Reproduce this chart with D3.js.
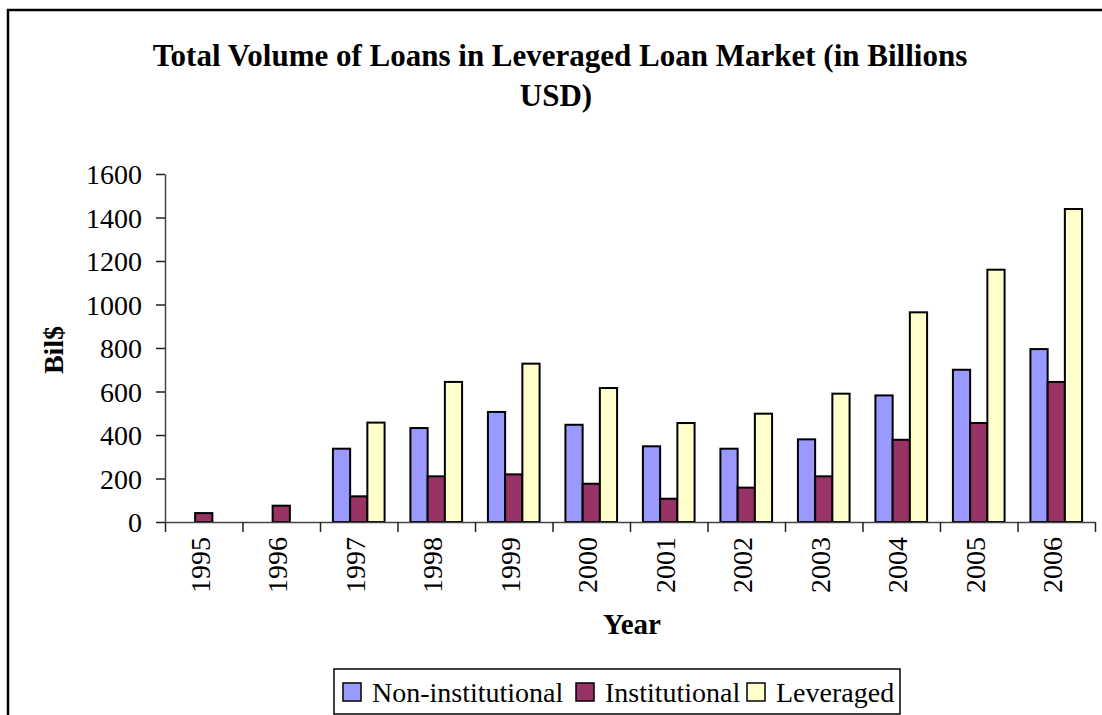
<!DOCTYPE html>
<html>
<head>
<meta charset="utf-8">
<script src="https://cdn.jsdelivr.net/npm/d3@7"></script>
<style>
  html, body { margin: 0; padding: 0; background: #fff; }
  svg { display: block; }
</style>
</head>
<body>
<svg id="chart" width="1102" height="715"></svg>
<script>
// Leveraged loan market volume, billions USD
const years = ["1995","1996","1997","1998","1999","2000","2001","2002","2003","2004","2005","2006"];
const nonInstitutional = [0, 0, 337, 432, 506, 447, 348, 337, 380, 582, 700, 795];
const institutional    = [41, 75, 118, 210, 219, 176, 107, 158, 210, 378, 455, 644];
const leveraged        = [0, 0, 457, 644, 728, 616, 455, 498, 590, 964, 1160, 1439];
const seriesNames  = ["Non-institutional", "Institutional", "Leveraged"];
const seriesColors = ["#9999FF", "#993366", "#FFFFCC"];
const yTicks = [0, 200, 400, 600, 800, 1000, 1200, 1400, 1600];

const seriesValues = [nonInstitutional, institutional, leveraged];
const svg = d3.select("#chart");
const serif = '"Liberation Serif", serif';

// outer chart frame
svg.append("rect")
  .attr("x", 8).attr("y", 10)
  .attr("width", 1110).attr("height", 720)
  .attr("fill", "none").attr("stroke", "#000").attr("stroke-width", 2.5);

// title
const title = svg.append("text")
  .style("font-family", serif)
  .style("font-weight", "bold")
  .style("font-size", "31px")
  .attr("text-anchor", "middle");
title.append("tspan").attr("x", 560).attr("y", 66).text("Total Volume of Loans in Leveraged Loan Market (in Billions");
title.append("tspan").attr("x", 556).attr("y", 106).text("USD)");

const plot = { left: 165, right: 1095, top: 174, bottom: 522 };

const x0 = d3.scaleBand().domain(years).range([plot.left, plot.right]).padding(0);
const bw = x0.bandwidth();
const gap = bw * 0.75 / 4.5;
const x1 = d3.scaleBand().domain(seriesNames).range([gap, bw - gap]).padding(0);
const y = d3.scaleLinear().domain([0, 1600]).range([plot.bottom, plot.top]);

// bars
years.forEach((yr, i) => {
  const g = svg.append("g").attr("transform", `translate(${x0(yr)},0)`);
  seriesNames.forEach((s, k) => {
    const v = seriesValues[k][i];
    if (!v) return;
    g.append("rect")
      .attr("x", x1(s))
      .attr("y", y(v))
      .attr("width", x1.bandwidth())
      .attr("height", y(0) - y(v))
      .attr("fill", seriesColors[k])
      .attr("stroke", "#000")
      .attr("stroke-width", 2);
  });
});

// y axis
const yAxis = svg.append("g")
  .attr("transform", `translate(${plot.left},0)`)
  .call(d3.axisLeft(y).tickValues(yTicks).tickFormat(d3.format("d"))
    .tickSize(9).tickPadding(14).tickSizeOuter(0));
yAxis.select(".domain").attr("stroke", "#444").attr("stroke-width", 1.5);
yAxis.selectAll(".tick line").attr("stroke", "#222").attr("stroke-width", 1.5);
yAxis.selectAll(".tick text")
  .style("font-family", serif)
  .style("font-size", "28px")
  .attr("fill", "#000").attr("dy", "0.35em");

// x axis: ticks at category boundaries
const xEdge = d3.scaleLinear().domain([0, years.length]).range([plot.left, plot.right]);
const xAxis = svg.append("g")
  .attr("transform", `translate(0,${plot.bottom})`)
  .call(d3.axisBottom(xEdge).tickValues(d3.range(years.length + 1))
    .tickSize(10).tickSizeOuter(0).tickFormat(""));
xAxis.select(".domain").attr("stroke", "#444").attr("stroke-width", 1.5);
xAxis.selectAll(".tick line").attr("stroke", "#222").attr("stroke-width", 1.5);

// rotated year labels
svg.append("g").selectAll("text")
  .data(years)
  .join("text")
  .attr("transform", d => `translate(${x0(d) + bw / 2 + 6},537) rotate(-90)`)
  .attr("text-anchor", "end")
  .style("font-family", serif)
  .style("font-size", "28px")
  .text(d => d);

// axis titles
svg.append("text")
  .attr("transform", "translate(63,350) rotate(-90)")
  .attr("text-anchor", "middle")
  .style("font-family", serif)
  .style("font-weight", "bold")
  .style("font-size", "28px")
  .text("Bil$");

svg.append("text")
  .attr("x", 632).attr("y", 634)
  .attr("text-anchor", "middle")
  .style("font-family", serif)
  .style("font-weight", "bold")
  .style("font-size", "29px")
  .text("Year");

// legend
const legend = svg.append("g");
legend.append("rect")
  .attr("x", 334).attr("y", 669).attr("width", 566).attr("height", 45)
  .attr("fill", "#fff").attr("stroke", "#000").attr("stroke-width", 1.5);
const legendX = [343, 576, 747];
seriesNames.forEach((s, k) => {
  legend.append("rect")
    .attr("x", legendX[k]).attr("y", 683).attr("width", 18).attr("height", 18)
    .attr("fill", seriesColors[k]).attr("stroke", "#000").attr("stroke-width", 1.5);
  legend.append("text")
    .attr("x", legendX[k] + 29).attr("y", 702)
    .style("font-family", serif)
    .style("font-size", "28px")
    .text(s);
});
</script>
</body>
</html>
